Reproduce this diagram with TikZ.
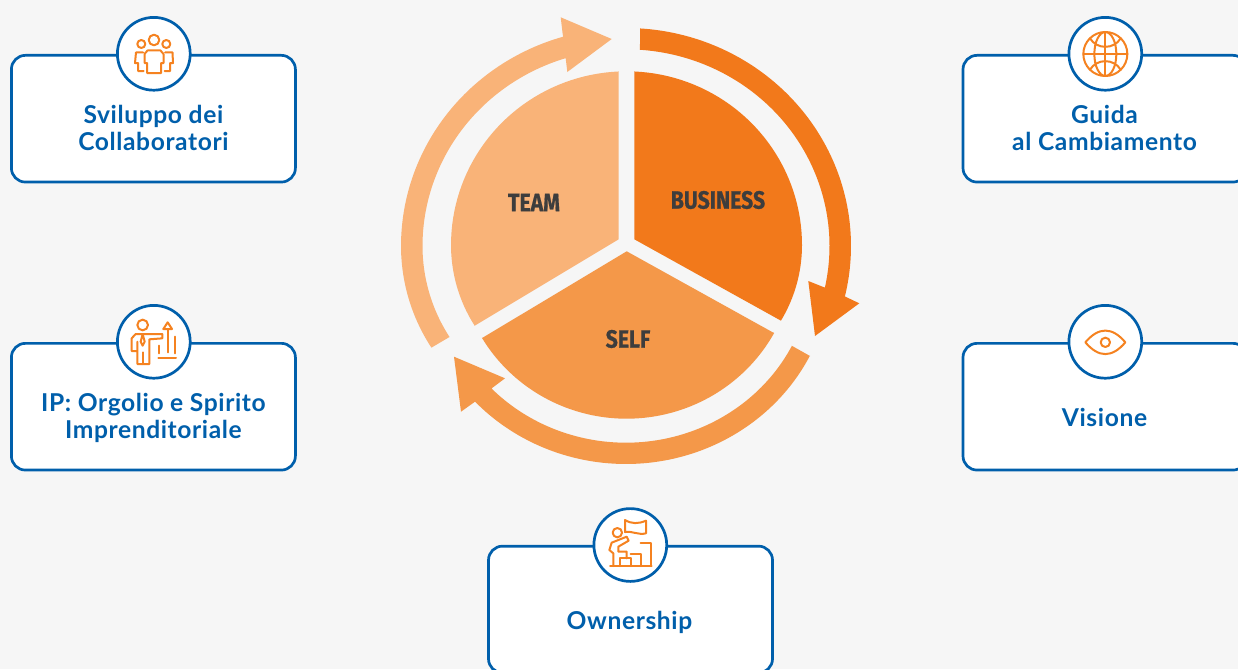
\documentclass[tikz,border=0pt]{standalone}
\usepackage{fontspec}
\setmainfont{Lato}[LetterSpace=2.5]
\newfontfamily\labfont[BoldFeatures={FakeBold=0.7}]{Fira Sans}
\definecolor{bgc}{HTML}{F6F6F6}
\definecolor{bluec}{HTML}{005FAB}
\definecolor{iconc}{HTML}{F58220}
\definecolor{bizc}{HTML}{F2791B}
\definecolor{selfc}{HTML}{F49849}
\definecolor{teamc}{HTML}{F9B378}
\definecolor{darkc}{HTML}{3D3D3D}
\newcommand{\condlabel}[1]{\scalebox{0.85}[1]{#1}}
\tikzset{
  card/.style={draw=bluec,fill=white,line width=2.7pt,rounded corners=14pt,minimum width=284pt,minimum height=126.7pt,inner sep=0pt},
  badge/.style={circle,draw=bluec,fill=white,line width=2.7pt,minimum size=72.8pt,inner sep=0pt},
  cardtext/.style={text=bluec,font=\fontsize{24.6}{27}\selectfont\bfseries,align=center,inner sep=0pt},
  sector/.style={font=\fontsize{25}{28}\selectfont\labfont\bfseries,text=darkc,inner sep=0pt},
  icon/.style={draw=iconc,line width=2pt,line join=round,line cap=round},
  zoomed/.style={x=0.33333pt,y=-0.33333pt},
  declare function={
    fsec(\t,\a,\w)=1-0.018*((\t-\a)/\w)^2;
    fself(\t)=(\t>-90 ? 1-0.04*((\t+90)/58.3)^2 : 1-0.02*((\t+90)/43)^2);
    fteam(\t)=(\t>180 ? 1-0.017*((\t-180)/28)^2 : 1);
  },
}
\begin{document}
\begin{tikzpicture}[x=1pt,y=-1pt]
\path[clip] (0,0) rectangle (1238,669);
\fill[bgc] (0,0) rectangle (1238,669);

% sectors
\fill[bizc] (634.3,71.7) -- plot[domain=87.5:0,samples=40] ({626.5+175.5*cos(\x)},{245-173.7*sin(\x)})
  -- plot[domain=0:-26.3,samples=20] ({626.5+175.5*fsec(\x,0,26.3)*cos(\x)},{245-173.7*fsec(\x,0,26.3)*sin(\x)}) -- (781,320.7) -- (634.3,239.3) -- cycle;
\fill[teamc] (618.7,71.7) -- plot[domain=92.5:180,samples=40] ({626.5+175.5*cos(\x)},{245-173.7*sin(\x)})
  -- plot[domain=180:208.3,samples=20] ({626.5+175.5*fsec(\x,180,28.3)*cos(\x)},{245-173.7*fsec(\x,180,28.3)*sin(\x)}) -- (475,325.5) -- (618.7,239.3) -- cycle;
\fill[selfc] (626.7,251.3) -- (483.3,337.3) -- plot[domain=213:329,samples=80] ({626.5+175.5*fsec(\x,271,58)*cos(\x)},{245-173.7*fsec(\x,271,58)*sin(\x)}) -- (772.7,332.3) -- cycle;

% ring arrows
\fill[bizc] plot[domain=86.43:-13.3,samples=80] ({626+225*cos(\x)},{246-218*sin(\x)})
  -- (843.3,295.7) -- (859.3,303.3) -- (815,336) -- (808.3,281) -- (824,287.3)
  -- plot[domain=-12.2:86.06,samples=80] ({626+203.5*cos(\x)},{246-196.7*sin(\x)}) -- cycle;
\fill[teamc] (431.3,347.7) -- plot[domain=208.3:106.2,samples=80] ({626+225*fteam(\x)*cos(\x)},{246-218*fteam(\x)*sin(\x)})
  -- (562.7,34.3) -- (560.7,17.3) -- (611.7,39) -- (567.3,72) -- (565.3,55)
  -- plot[domain=107.1:208.1,samples=80] ({626+203.5*fteam(\x)*cos(\x)},{246-196.7*fteam(\x)*sin(\x)}) -- (449,337.3) -- cycle;
\fill[selfc] (810,356) -- plot[domain=-31.7:-133.2,samples=80] ({626+225*fself(\x)*cos(\x)},{246-218*fself(\x)*sin(\x)})
  -- (475,401.7) -- (461,411.7) -- (454,356.7) -- (505,378.3) -- (491.7,388.3)
  -- plot[domain=-132.4:-31.9,samples=80] ({626+203.5*fself(\x)*cos(\x)},{246-196.7*fself(\x)*sin(\x)}) -- (791.7,345.7) -- cycle;

\node[sector] (business) at (718,200) {\condlabel{BUSINESS}};
\node[sector] (team) at (534,202.5) {\condlabel{TEAM}};
\node[sector] (self) at (628,339) {\condlabel{SELF}};

% cards
\node[card] (c1) at (153.4,118.7) {};
\node[card] (c2) at (153.4,406.7) {};
\node[card] (c3) at (630.5,609.5) {};
\node[card] (c4) at (1105,118.7) {};
\node[card] (c5) at (1105,406.7) {};
\node[badge] (b1) at (153.8,53.8) {};
\node[badge] (b2) at (153.8,341.8) {};
\node[badge] (b3) at (630.3,545) {};
\node[badge] (b4) at (1105.3,53.8) {};
\node[badge] (b5) at (1105.3,341.8) {};

\node[cardtext] (t1) at (153.4,128) {Sviluppo dei\\Collaboratori};
\node[cardtext] (t2) at (153.4,418) {IP: Orgolio e Spirito\\Imprenditoriale};
\node[cardtext] (t3) at (629.5,622) {Ownership};
\node[cardtext] (t4) at (1104.5,128) {Guida\\al Cambiamento};
\node[cardtext] (t5) at (1104.5,417) {Visione};

% icon: people
\begin{scope}[icon]
\draw (154,40) circle [radius=5.3];
\draw (141.3,44) circle [radius=4];
\draw (166.3,44) circle [radius=4];
\draw (147,73) -- (147,63) -- (144.5,63) -- (144.5,54) -- (147.5,50.5) -- (160.5,50.5) -- (163.5,54) -- (163.5,63) -- (161,63) -- (161,73) -- cycle;
\draw (143,52.5) -- (136,52.5) -- (135,63) -- (138,63) -- (138,71) -- (143.5,71);
\draw (165,52.5) -- (172.5,52.5) -- (173,63) -- (170,63) -- (170,71) -- (164.5,71);
\end{scope}

% icon: presenter
\begin{scope}[icon,shift={(100,295)},zoomed]
\draw (128,90) circle [radius=16];
\draw (112,168) -- (95,168) -- (95,130) -- (107,117) -- (187,117) -- (187,130) -- (148,133) -- (148,207) -- (112,207) -- (112,140);
\draw (130,207) -- (130,172);
\draw (128,117) -- (122,140) -- (128,152) -- (134,140) -- cycle;
\draw (203,82) -- (190,102) -- (216,102) -- cycle;
\draw (203,102) -- (203,172);
\draw (226,125) -- (226,175);
\draw (178,152) -- (178,175);
\draw (175,190) -- (228,190);
\end{scope}

% icon: flag and steps
\begin{scope}[icon,shift={(580,500)},zoomed]
\draw (135,60) .. controls (155,72) and (175,72) .. (198,62) -- (198,100) .. controls (175,106) and (155,92) .. (135,96) -- cycle;
\draw (112,98) circle [radius=14];
\draw (100,198) -- (100,160) -- (88,150) -- (95,128) -- (140,110) -- (146,122) -- (115,140) -- (115,155) -- (140,155) -- (140,175);
\draw (120,198) -- (120,175) -- (152,175) -- (152,198);
\draw (152,162) -- (182,162) -- (182,198);
\draw (182,128) -- (212,128) -- (212,198);
\draw (90,198) -- (215,198);
\end{scope}

% icon: globe
\begin{scope}[icon,shift={(1050,5)},zoomed]
\draw (166,147) circle [radius=66];
\draw (166,147) ellipse [x radius=33,y radius=66];
\draw (166,81) -- (166,213);
\draw (100,147) -- (232,147);
\draw (120,100) .. controls (140,134) and (192,134) .. (212,100);
\draw (120,194) .. controls (140,160) and (192,160) .. (212,194);
\end{scope}

% icon: eye
\begin{scope}[icon,shift={(1050,295)},zoomed]
\draw (106,142) .. controls (146,95) and (186,95) .. (226,142) .. controls (186,189) and (146,189) .. (106,142) -- cycle;
\draw (166,142) circle [radius=14];
\end{scope}
\end{tikzpicture}
\end{document}
